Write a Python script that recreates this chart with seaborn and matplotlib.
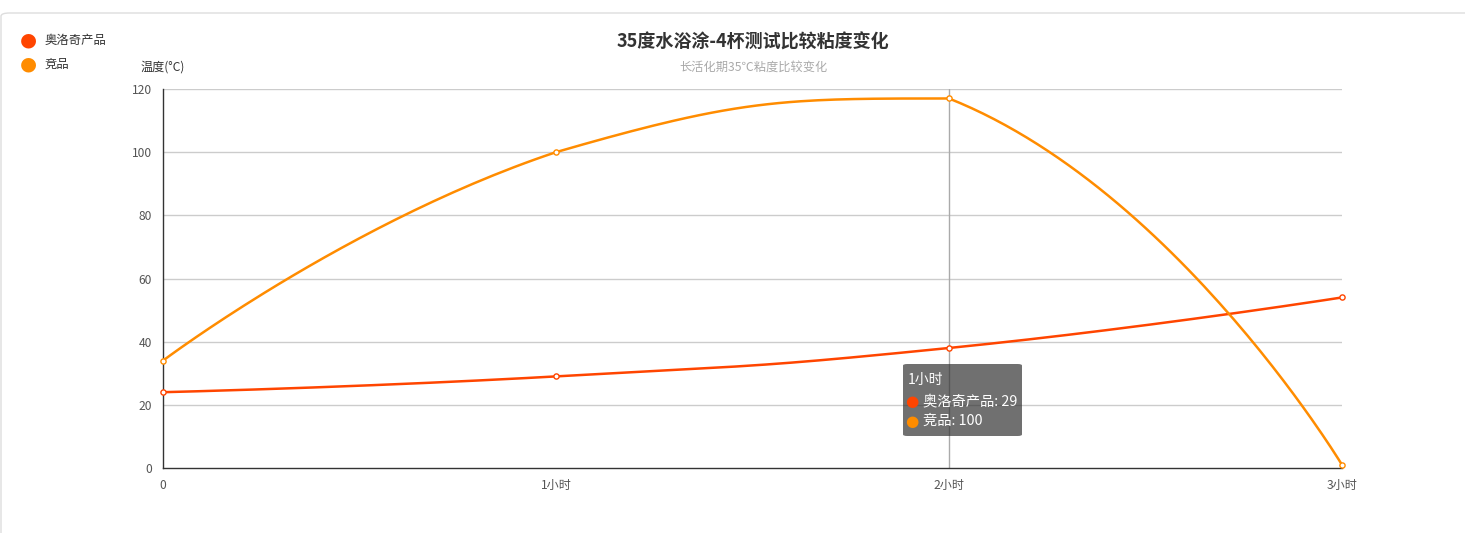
import numpy as np
import pandas as pd
import matplotlib
matplotlib.use("Agg")
import matplotlib.pyplot as plt
import seaborn as sns
from matplotlib.patches import FancyBboxPatch

# Chart data
categories = ["0", "1小时", "2小时", "3小时"]
series_names = ["奥洛奇产品", "竞品"]
product_vals = [24, 29, 38, 54]
rival_vals = [34, 100, 117, 1]
colors = ["#ff4500", "#ff8c00"]
y_ticks = [0, 20, 40, 60, 80, 100, 120]
tip_title = "1小时"
tip_vals = [29, 100]


def smooth_curve(ys, sx=393.0, sy=3.16, smooth=0.5, n=60):
    # echarts-like bezier smoothing, control points kept inside the points' bbox
    pts = np.array([[i * sx, v * sy] for i, v in enumerate(ys)], dtype=float)
    lo, hi = pts.min(axis=0), pts.max(axis=0)
    m = len(pts)
    cps = []
    for i in range(m):
        p = pts[i]
        if i == 0 or i == m - 1:
            cps.append((p.copy(), p.copy()))
            continue
        prev, nxt = pts[i - 1], pts[i + 1]
        v = (nxt - prev) * smooth
        d0 = np.hypot(*(p - prev))
        d1 = np.hypot(*(nxt - p))
        s = d0 + d1
        c0 = np.clip(p - v * d0 / s, lo, hi)
        c1 = np.clip(p + v * d1 / s, lo, hi)
        cps.append((c0, c1))
    xs, yv = [], []
    t = np.linspace(0, 1, n)[:, None]
    for i in range(m - 1):
        a, b = pts[i], pts[i + 1]
        c1, c2 = cps[i][1], cps[i + 1][0]
        seg = ((1 - t) ** 3) * a + 3 * ((1 - t) ** 2) * t * c1 + 3 * (1 - t) * t ** 2 * c2 + t ** 3 * b
        xs.extend(seg[:, 0] / sx)
        yv.extend(seg[:, 1] / sy)
    return np.array(xs), np.array(yv)


sns.set_theme(style="white")
plt.rcParams["font.family"] = ["Noto Sans CJK SC", "DejaVu Sans"]

fig = plt.figure(figsize=(14.65, 5.33), dpi=100)
W, H = 1465, 533
ax = fig.add_axes([163 / W, (H - 468) / H, (1342 - 163) / W, (468 - 89) / H])

# outer card border
fig.patches.append(FancyBboxPatch((1 / W, -0.1), 1.2, (H - 13) / H + 0.1,
                                  boxstyle="round,pad=0,rounding_size=0.006",
                                  transform=fig.transFigure, fill=False,
                                  edgecolor="#dddddd", linewidth=1))

for name, vals, col in zip(series_names, [product_vals, rival_vals], colors):
    cx, cy = smooth_curve(vals)
    df = pd.DataFrame({"x": cx, "y": cy})
    sns.lineplot(data=df, x="x", y="y", ax=ax, color=col, linewidth=1.8,
                 sort=False, estimator=None, zorder=3)
    pts = pd.DataFrame({"x": range(len(vals)), "y": vals})
    sns.scatterplot(data=pts, x="x", y="y", ax=ax, s=14, facecolor="white",
                    edgecolor=col, linewidth=1, zorder=4, clip_on=False)

ax.set_xlim(0, len(categories) - 1)
ax.set_ylim(0, 120)
ax.set_xticks(range(len(categories)))
ax.set_xticklabels(categories)
ax.set_yticks(y_ticks)
ax.set_xlabel("")
ax.set_ylabel("")
ax.tick_params(axis="both", labelsize=8.7, colors="#333333", length=5,
               width=1, direction="out", pad=3)
ax.tick_params(axis="x", labelcolor="#555555")
ax.tick_params(axis="y", labelcolor="#555555")
for y in y_ticks[1:]:
    ax.axhline(y, color="#cccccc", linewidth=1, zorder=1)
for s in ["top", "right"]:
    ax.spines[s].set_visible(False)
for s in ["left", "bottom"]:
    ax.spines[s].set_color("#333333")
    ax.spines[s].set_linewidth(1)

# axis pointer at 2小时
ax.axvline(2, color="#aaaaaa", linewidth=1, zorder=2)

# titles
fig.text(753 / W, 1 - 42 / H, "35度水浴涂-4杯测试比较粘度变化", ha="center",
         va="center", fontsize=13, fontweight="bold", color="#333333")
fig.text(753 / W, 1 - 67 / H, "长活化期35℃粘度比较变化", ha="center",
         va="center", fontsize=8.8, color="#aaaaaa")
fig.text(163 / W, 1 - 67 / H, "温度(°C)", ha="center", va="center",
         fontsize=8.7, color="#333333")

# legend
for i, (name, col) in enumerate(zip(series_names, colors)):
    yy = 1 - (40 + 24 * i) / H
    fig.text(28 / W, yy, "●", ha="center", va="center", fontsize=14,
             color=col, family=["DejaVu Sans"])
    fig.text(45 / W, yy, name, ha="left", va="center", fontsize=8.9,
             color="#333333")

# tooltip
fig.patches.append(FancyBboxPatch((903 / W, 1 - 436 / H), 119 / W, 72 / H,
                                  boxstyle="round,pad=0,rounding_size=0.003",
                                  transform=fig.transFigure,
                                  facecolor=(0.2, 0.2, 0.2, 0.7),
                                  edgecolor="none", zorder=10))
fig.text(908 / W, 1 - 380 / H, tip_title, ha="left", va="center",
         fontsize=10, color="white", fontweight="medium", zorder=11)
for i, (name, col, v) in enumerate(zip(series_names, colors, tip_vals)):
    yy = 1 - (401 + 20 * i) / H
    fig.text(912 / W, yy, "●", ha="center", va="center", fontsize=11,
             color=col, family=["DejaVu Sans"], zorder=11)
    fig.text(923 / W, yy, f"{name}: {v}", ha="left", va="center",
             fontsize=10.3, color="white", fontweight="medium", zorder=11)

fig.savefig("out.png", dpi=100)
